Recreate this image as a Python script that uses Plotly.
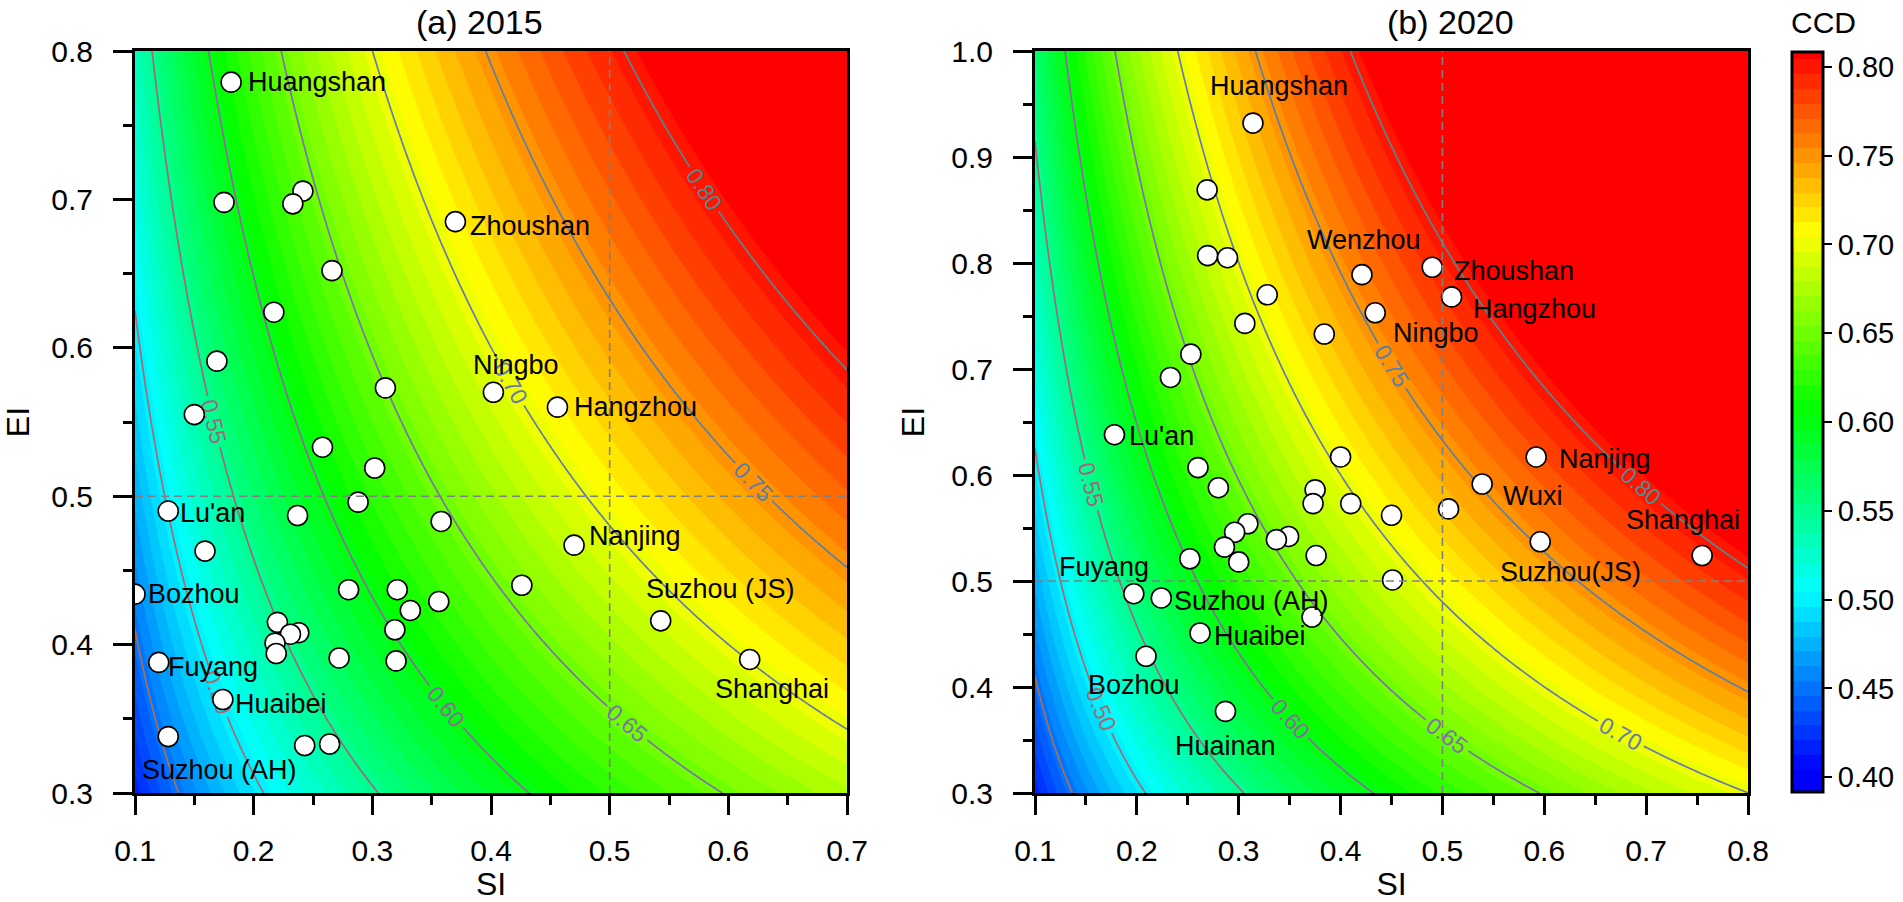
import numpy as np
import plotly.graph_objects as go

# ---------------- data ----------------
SI_2015 = [0.181, 0.175, 0.2415, 0.233, 0.370, 0.266, 0.217, 0.169, 0.311, 0.402,
           0.456, 0.150, 0.258, 0.302, 0.288, 0.128, 0.237, 0.358, 0.159, 0.470,
           0.100, 0.280, 0.321, 0.426, 0.356, 0.332, 0.220, 0.238, 0.231, 0.218,
           0.319, 0.219, 0.120, 0.272, 0.320, 0.174, 0.128, 0.243, 0.264, 0.543,
           0.618]
EI_2015 = [0.779, 0.698, 0.7056, 0.697, 0.685, 0.652, 0.624, 0.591, 0.573, 0.570,
           0.560, 0.555, 0.533, 0.519, 0.496, 0.490, 0.487, 0.483, 0.463, 0.467,
           0.434, 0.437, 0.437, 0.440, 0.429, 0.423, 0.415, 0.408, 0.407, 0.401,
           0.410, 0.394, 0.388, 0.391, 0.389, 0.363, 0.338, 0.332, 0.333, 0.416,
           0.390]
NAME_2015 = ["Huangshan", "", "", "", "Zhoushan", "", "", "", "", "Ningbo",
             "Hangzhou", "", "", "", "", "Lu'an", "", "", "", "Nanjing",
             "Bozhou", "", "", "", "", "", "", "", "", "",
             "", "", "Fuyang", "", "", "Huaibei", "Suzhou (AH)", "", "", "Suzhou (JS)",
             "Shanghai"]

SI_2020 = [0.314, 0.269, 0.2695, 0.289, 0.421, 0.490, 0.509, 0.328, 0.434, 0.306,
           0.384, 0.253, 0.233, 0.178, 0.400, 0.592, 0.260, 0.280, 0.539, 0.375,
           0.373, 0.410, 0.506, 0.450, 0.309, 0.296, 0.349, 0.337, 0.596, 0.286,
           0.252, 0.376, 0.300, 0.451, 0.197, 0.224, 0.372, 0.262, 0.209, 0.287,
           0.755]
EI_2020 = [0.932, 0.869, 0.807, 0.805, 0.789, 0.796, 0.768, 0.770, 0.753, 0.743,
           0.733, 0.714, 0.692, 0.638, 0.617, 0.617, 0.607, 0.588, 0.5915, 0.586,
           0.573, 0.573, 0.568, 0.562, 0.554, 0.546, 0.542, 0.539, 0.537, 0.532,
           0.521, 0.524, 0.518, 0.501, 0.488, 0.484, 0.466, 0.451, 0.429, 0.377,
           0.524]
NAME_2020 = ["Huangshan", "", "", "", "Wenzhou", "Zhoushan", "Hangzhou", "", "Ningbo", "",
             "", "", "", "Lu'an", "", "Nanjing", "", "", "Wuxi", "",
             "", "", "", "", "", "", "", "", "Suzhou(JS)", "",
             "", "", "", "", "Fuyang", "Suzhou (AH)", "", "Huaibei", "Bozhou", "Huainan",
             "Shanghai"]

CCD_TICKS = [0.40, 0.45, 0.50, 0.55, 0.60, 0.65, 0.70, 0.75, 0.80]
LINE_LEVELS = dict(start=0.45, end=0.80, size=0.05)


def ccd(si, ei):
    """Coupling coordination degree D = sqrt(C*T)."""
    c = 2 * np.sqrt(si * ei) / (si + ei)
    t = 0.5 * si + 0.5 * ei
    return np.sqrt(c * t)


# ---------------- styles / positions ----------------
FONT = "Arial, Liberation Sans, sans-serif"
STEP = 0.05 / 6
F_START, F_END = 0.40 - STEP / 2, 0.80 + STEP / 2
# plotly maps the fill colorscale over [start - step, end - step/2]
_D0, _D1 = F_START - STEP, F_END - STEP / 2


def _pos(v):
    return (v - _D0) / (_D1 - _D0)


FILL_CS = [[0, "#0000ff"], [_pos(0.4), "#0000ff"], [_pos(0.5), "#00ffff"], [_pos(0.6), "#00ff00"],
           [_pos(0.7), "#ffff00"], [min(_pos(0.8), 1), "#ff0000"]]
if FILL_CS[-1][0] < 1:
    FILL_CS.append([1, "#ff0000"])
LINE_CS = [[0, "#a8705a"], [0.143, "#a86a72"], [0.286, "#a0687f"], [0.429, "#9068a0"],
           [0.571, "#8070b0"], [0.714, "#6a78b0"], [0.857, "#5a80a8"], [1, "#508a90"]]

# label placement: name -> (xanchor, xshift, yshift)
LAB_2015 = {
    "Huangshan": ("left", 15, 0), "Zhoushan": ("left", 13, -4), "Ningbo": ("center", 23, 27),
    "Hangzhou": ("left", 15, 0), "Lu'an": ("left", 10, -2), "Nanjing": ("left", 13, 9),
    "Bozhou": ("left", 11, 0), "Fuyang": ("left", 7, -5), "Huaibei": ("left", 10, -4),
    "Suzhou (AH)": ("left", -28, -33), "Suzhou (JS)": ("center", 60, 32), "Shanghai": ("center", 22, -30),
}
LAB_2020 = {
    "Huangshan": ("center", 26, 37), "Wenzhou": ("center", 2, 35), "Zhoushan": ("left", 20, -4),
    "Hangzhou": ("left", 19, -12), "Ningbo": ("left", 16, -20), "Lu'an": ("left", 13, -1),
    "Nanjing": ("left", 21, -2), "Wuxi": ("left", 19, -12), "Suzhou(JS)": ("center", 30, -30),
    "Shanghai": ("center", -19, 36), "Fuyang": ("center", -30, 27), "Suzhou (AH)": ("left", 11, -3),
    "Huaibei": ("left", 12, -3), "Bozhou": ("center", -12, -29), "Huainan": ("center", 0, -35),
}

W, H = 1903, 902


def px(X):
    return X / W


def py(Y):
    return 1 - Y / H


DOM_A = [px(135), px(847)]
DOM_B = [px(1035), px(1748)]
DOM_Y = [py(793), py(51)]

fig = go.Figure()

panels = [
    dict(si=SI_2015, ei=EI_2015, names=NAME_2015, labs=LAB_2015, xr=[0.1, 0.7], yr=[0.3, 0.8],
         xa="x", ya="y", title="(a) 2015", tx=480, scale=False),
    dict(si=SI_2020, ei=EI_2020, names=NAME_2020, labs=LAB_2020, xr=[0.1, 0.8], yr=[0.3, 1.0],
         xa="x2", ya="y2", title="(b) 2020", tx=1450, scale=True),
]

annotations = []
for p in panels:
    gx = np.linspace(p["xr"][0], p["xr"][1], 241)
    gy = np.linspace(p["yr"][0], p["yr"][1], 241)
    GX, GY = np.meshgrid(gx, gy)
    Z = ccd(GX, GY)
    fig.add_trace(go.Contour(
        x=gx, y=gy, z=Z, xaxis=p["xa"], yaxis=p["ya"],
        colorscale=FILL_CS,
        contours=dict(start=F_START, end=F_END, size=STEP, coloring="fill", showlines=False),
        line=dict(width=0), hoverinfo="skip",
        showscale=p["scale"],
        colorbar=dict(
            x=px(1792), xanchor="left", y=py(422), yanchor="middle",
            len=740, lenmode="pixels", thickness=31, xpad=0, ypad=0,
            outlinewidth=3, outlinecolor="black",
            tickvals=CCD_TICKS, ticktext=[f"{v:.2f}" for v in CCD_TICKS],
            ticks="outside", ticklen=8, tickwidth=2, tickcolor="black",
            tickfont=dict(family=FONT, size=29, color="black"),
        ),
    ))
    fig.add_trace(go.Contour(
        x=gx, y=gy, z=Z, xaxis=p["xa"], yaxis=p["ya"],
        colorscale=LINE_CS, zmin=LINE_LEVELS["start"], zmax=LINE_LEVELS["end"],
        contours=dict(start=LINE_LEVELS["start"], end=LINE_LEVELS["end"], size=LINE_LEVELS["size"],
                      coloring="lines", showlabels=True, labelformat=".2f",
                      labelfont=dict(family=FONT, size=23)),
        line=dict(width=1.7), showscale=False, hoverinfo="skip",
    ))
    fig.add_trace(go.Scatter(
        x=p["si"], y=p["ei"], xaxis=p["xa"], yaxis=p["ya"], mode="markers",
        marker=dict(size=20, color="white", line=dict(color="black", width=1.6)),
        showlegend=False, hoverinfo="skip", cliponaxis=True,
    ))
    xref = p["xa"]
    yref = p["ya"]
    fig.add_shape(type="line", xref=xref, yref=yref, x0=0.5, x1=0.5, y0=p["yr"][0], y1=p["yr"][1],
                  line=dict(color="#808080", width=1.6, dash="8px,5px"))
    fig.add_shape(type="line", xref=xref, yref=yref, x0=p["xr"][0], x1=p["xr"][1], y0=0.5, y1=0.5,
                  line=dict(color="#808080", width=1.6, dash="8px,5px"))
    for s, e, n in zip(p["si"], p["ei"], p["names"]):
        if not n:
            continue
        anc, dx, dy = p["labs"][n]
        annotations.append(dict(x=s, y=e, xref=xref, yref=yref, text=n, showarrow=False,
                                xanchor=anc, yanchor="middle", xshift=dx, yshift=dy,
                                font=dict(family=FONT, size=27, color="black")))
    annotations.append(dict(x=px(p["tx"]), y=py(22), xref="paper", yref="paper", text=p["title"],
                            showarrow=False, xanchor="center", yanchor="middle", borderpad=0,
                            font=dict(family=FONT, size=34, color="black")))

annotations.append(dict(x=px(1823), y=py(22), xref="paper", yref="paper", text="CCD",
                        showarrow=False, xanchor="center", yanchor="middle", borderpad=0,
                        font=dict(family=FONT, size=30, color="black")))


def axis(domain, rng, anchor, title, standoff, tstand):
    return dict(
        domain=domain, range=rng, anchor=anchor, dtick=0.1, tick0=0.1, tickformat=".1f",
        ticks="outside", ticklen=19, tickwidth=3, tickcolor="black",
        minor=dict(ticks="outside", ticklen=9, tickwidth=3, tickcolor="black", dtick=0.05, showgrid=False),
        showline=True, linewidth=3, linecolor="black", mirror=True, automargin=False,
        showgrid=False, zeroline=False, ticklabelstandoff=standoff,
        tickfont=dict(family=FONT, size=30, color="black"),
        title=dict(text=title, font=dict(family=FONT, size=32, color="black"), standoff=tstand),
    )


fig.update_layout(
    template="none",
    width=W, height=H, margin=dict(l=0, r=0, t=0, b=0, autoexpand=False),
    paper_bgcolor="white", plot_bgcolor="white", showlegend=False,
    xaxis=axis(DOM_A, [0.1, 0.7], "y", "SI", 10, 8),
    yaxis=axis(DOM_Y, [0.3, 0.8], "x", "EI", 14, 18),
    xaxis2=axis(DOM_B, [0.1, 0.8], "y2", "SI", 10, 8),
    yaxis2=axis(DOM_Y, [0.3, 1.0], "x2", "EI", 14, 18),
    annotations=annotations,
)

fig.write_html("out.html", config={"displayModeBar": False},
               post_script="document.body.style.margin='0px';")
